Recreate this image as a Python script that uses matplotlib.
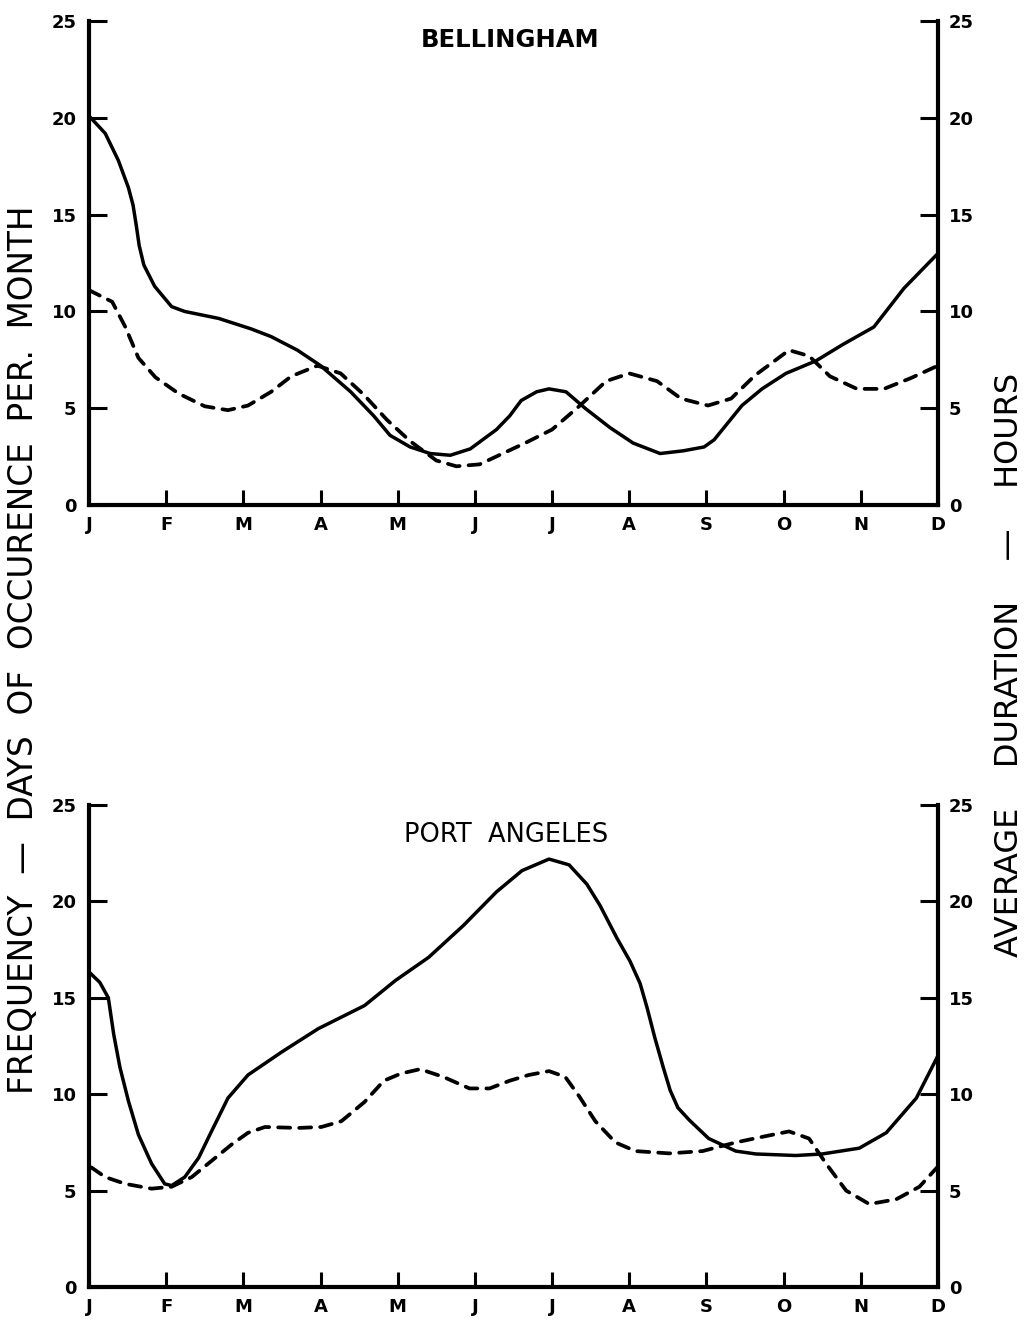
import matplotlib.pyplot as plt

# Month labels (J at 0 ... D at 11)
MONTHS = ["J", "F", "M", "A", "M", "J", "J", "A", "S", "O", "N", "D"]
YTICKS = [0, 5, 10, 15, 20, 25]

# Bellingham - solid curve (frequency)
bel_solid_x = [0.0, 0.21, 0.38, 0.51, 0.57, 0.61, 0.65, 0.71, 0.85, 1.07, 1.24, 1.68, 2.1, 2.36,
               2.7, 3.0, 3.39, 3.69, 3.9, 4.16, 4.42, 4.68, 4.94, 5.28, 5.45, 5.6, 5.8,
               5.96, 6.18, 6.44, 6.75, 7.05, 7.4, 7.7, 7.97, 8.1, 8.46, 8.72, 9.03,
               9.42, 9.77, 10.17, 10.56, 11.0]
bel_solid_y = [20.1, 19.2, 17.8, 16.4, 15.5, 14.5, 13.4, 12.4, 11.3, 10.25, 10.0, 9.64, 9.1, 8.7,
               8.0, 7.2, 5.85, 4.6, 3.6, 3.0, 2.66, 2.57, 2.9, 3.9, 4.6, 5.4, 5.85,
               6.0, 5.85, 4.96, 4.0, 3.2, 2.66, 2.8, 3.0, 3.37, 5.14, 6.0, 6.8,
               7.45, 8.3, 9.2, 11.2, 13.0]

# Bellingham - dashed curve (duration)
bel_dash_x = [0.0, 0.3, 0.47, 0.64, 0.86, 1.16, 1.5, 1.8, 2.06, 2.36, 2.62, 2.96, 3.26,
              3.56, 3.86, 4.16, 4.5, 4.76, 5.06, 5.36, 5.65, 6.0, 6.35, 6.7, 7.0, 7.36,
              7.67, 8.02, 8.32, 8.63, 9.07, 9.33, 9.6, 9.95, 10.3, 10.65, 11.0]
bel_dash_y = [11.1, 10.5, 9.2, 7.6, 6.6, 5.76, 5.1, 4.9, 5.14, 5.85, 6.65, 7.2, 6.8,
              5.7, 4.4, 3.3, 2.3, 2.0, 2.1, 2.66, 3.2, 3.9, 5.1, 6.4, 6.8, 6.4,
              5.5, 5.14, 5.5, 6.7, 8.0, 7.7, 6.65, 6.0, 6.0, 6.56, 7.2]

# Port Angeles - solid curve
pa_solid_x = [0.01, 0.14, 0.25, 0.32, 0.4, 0.51, 0.64, 0.81, 0.98, 1.07, 1.24, 1.42, 1.59,
              1.8, 2.06, 2.28, 2.5, 2.97, 3.57, 3.97, 4.4, 4.85, 5.28, 5.61, 5.96, 6.22,
              6.45, 6.62, 6.84, 7.01, 7.14, 7.23, 7.33, 7.44, 7.53, 7.63, 7.78, 8.03,
              8.38, 8.64, 9.16, 9.5, 9.98, 10.33, 10.72, 11.0]
pa_solid_y = [16.3, 15.8, 15.0, 13.1, 11.4, 9.65, 7.9, 6.4, 5.35, 5.26, 5.7, 6.7, 8.1,
              9.8, 11.0, 11.6, 12.2, 13.4, 14.6, 15.9, 17.1, 18.75, 20.5, 21.6, 22.2, 21.9,
              20.9, 19.8, 18.1, 16.9, 15.75, 14.5, 12.95, 11.4, 10.2, 9.3, 8.65, 7.7,
              7.05, 6.9, 6.82, 6.9, 7.2, 8.0, 9.8, 12.0]

# Port Angeles - dashed curve
pa_dash_x = [0.03, 0.21, 0.47, 0.81, 1.07, 1.33, 1.59, 1.85, 2.06, 2.28, 2.71, 3.01, 3.27,
             3.57, 3.82, 4.04, 4.29, 4.59, 4.93, 5.19, 5.45, 5.7, 5.96, 6.17, 6.35,
             6.56, 6.82, 7.08, 7.52, 7.95, 8.38, 8.81, 9.07, 9.33, 9.55, 9.81, 10.11,
             10.46, 10.76, 11.0]
pa_dash_y = [6.2, 5.7, 5.35, 5.1, 5.2, 5.7, 6.55, 7.4, 8.0, 8.3, 8.25, 8.3, 8.6,
             9.6, 10.7, 11.07, 11.3, 10.9, 10.3, 10.3, 10.7, 11.0, 11.2, 10.9, 9.9,
             8.6, 7.5, 7.05, 6.93, 7.05, 7.5, 7.86, 8.07, 7.7, 6.4, 5.0, 4.3,
             4.55, 5.2, 6.25]

TICK_FONT = dict(family="DejaVu Sans", weight="bold", size=13)
LABEL_FONT = ["DejaVu Sans"]

fig = plt.figure(figsize=(10.27, 13.22), dpi=100)


def draw_panel(rect, solid_x, solid_y, dash_x, dash_y):
    ax = fig.add_axes(rect)
    ax.plot(solid_x, solid_y, color="black", lw=2.5, solid_capstyle="round",
            solid_joinstyle="round")
    ax.plot(dash_x, dash_y, color="black", lw=2.7, dashes=(3.2, 2.4),
            dash_capstyle="round", dash_joinstyle="round")
    ax.set_xlim(0, 11)
    ax.set_ylim(0, 25)
    ax.set_xticks(range(12))
    ax.set_xticklabels(MONTHS, fontdict=TICK_FONT)
    ax.set_yticks(YTICKS)
    ax.set_yticklabels([str(v) for v in YTICKS], fontdict=TICK_FONT)
    ax.tick_params(axis="y", direction="in", length=13, width=2.2, pad=9)
    ax.tick_params(axis="x", direction="in", length=11, width=2.2, pad=8)
    ax.spines["top"].set_visible(False)
    ax.spines["right"].set_visible(False)
    for s in ("left", "bottom"):
        ax.spines[s].set_linewidth(3)

    ax2 = ax.twinx()
    ax2.set_ylim(0, 25)
    ax2.set_yticks(YTICKS)
    ax2.set_yticklabels([str(v) for v in YTICKS], fontdict=TICK_FONT)
    ax2.tick_params(axis="y", direction="in", length=13, width=2.2, pad=8)
    for s in ("top", "left", "bottom"):
        ax2.spines[s].set_visible(False)
    ax2.spines["right"].set_linewidth(3)
    return ax


draw_panel([0.0867, 0.618, 0.8266, 0.366],
           bel_solid_x, bel_solid_y, bel_dash_x, bel_dash_y)
draw_panel([0.0867, 0.0265, 0.8266, 0.3645],
           pa_solid_x, pa_solid_y, pa_dash_x, pa_dash_y)

fig.text(0.497, 1 - 40 / 1322, "BELLINGHAM", ha="center", va="center",
         fontsize=17.5, fontweight="bold", family="DejaVu Sans")
fig.text(0.493, 1 - 835 / 1322, "PORT  ANGELES", ha="center", va="center",
         fontsize=18.5, family="DejaVu Sans")

fig.text(24 / 1027, 1 - 650 / 1322,
         "FREQUENCY  \u2014  DAYS  OF  OCCURENCE  PER.  MONTH",
         rotation=90, ha="center", va="center", fontsize=23.5, family=LABEL_FONT)
fig.text(1009 / 1027, 1 - 665 / 1322,
         "AVERAGE    DURATION    \u2014    HOURS",
         rotation=90, ha="center", va="center", fontsize=23, family=LABEL_FONT)

fig.savefig("out.png", dpi=100, facecolor="white")
